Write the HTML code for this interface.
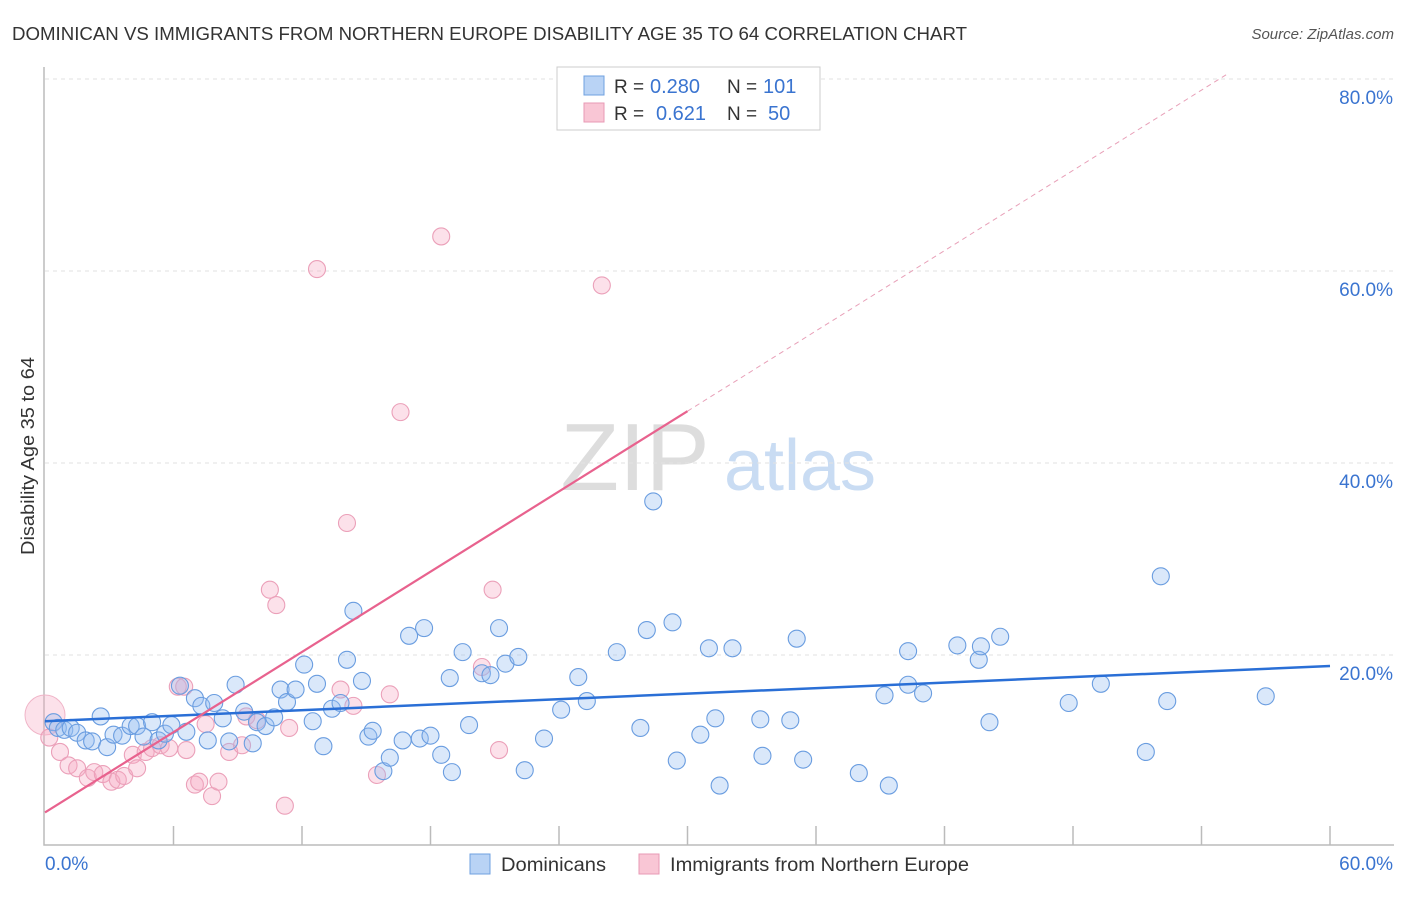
<!DOCTYPE html>
<html><head><meta charset="utf-8"><style>
body{margin:0;background:#fff;font-family:"Liberation Sans",sans-serif;}
svg text{font-family:"Liberation Sans",sans-serif;}
</style></head><body>
<svg id="chart" width="1406" height="892" viewBox="0 0 1406 892" xmlns="http://www.w3.org/2000/svg">
<text x="12" y="40" font-size="18" fill="#333" textLength="955" lengthAdjust="spacingAndGlyphs">DOMINICAN VS IMMIGRANTS FROM NORTHERN EUROPE DISABILITY AGE 35 TO 64 CORRELATION CHART</text>
<text x="1394" y="39" font-size="15" fill="#555" text-anchor="end" font-style="italic">Source: ZipAtlas.com</text>
<g>
<text x="635" y="490" font-size="96" fill="#ddd" text-anchor="middle" font-family="Liberation Serif,serif">ZIP</text>
<text x="800" y="490" font-size="72" fill="#c9dcf3" text-anchor="middle">atlas</text>
</g>
<g id="grid"></g>
<g id="axes"></g>
<g id="points"></g>
<g id="lines"></g>
<text transform="translate(34,456) rotate(-90)" font-size="18" fill="#333" text-anchor="middle" textLength="198" lengthAdjust="spacingAndGlyphs">Disability Age 35 to 64</text>
<g>
<rect x="557" y="67" width="263" height="63" fill="#fff" stroke="#ccc"/>
<rect x="584" y="76" width="20" height="19" fill="#b9d3f5" stroke="#6fa0e0"/>
<rect x="584" y="103" width="20" height="19" fill="#f9c6d5" stroke="#e89ab5"/>
<text x="614" y="93" font-size="19" fill="#333">R =</text>
<text x="650" y="93" font-size="20" fill="#3a74d0">0.280</text>
<text x="727" y="93" font-size="19" fill="#333">N =</text>
<text x="763" y="93" font-size="20" fill="#3a74d0">101</text>
<text x="614" y="120" font-size="19" fill="#333">R =</text>
<text x="656" y="120" font-size="20" fill="#3a74d0">0.621</text>
<text x="727" y="120" font-size="19" fill="#333">N =</text>
<text x="768" y="120" font-size="20" fill="#3a74d0">50</text>
</g>
<g>
<rect x="470" y="854" width="20" height="20" fill="#b9d3f5" stroke="#6fa0e0"/>
<text x="501" y="871" font-size="19" fill="#333" textLength="105" lengthAdjust="spacingAndGlyphs">Dominicans</text>
<rect x="639" y="854" width="20" height="20" fill="#f9c6d5" stroke="#e89ab5"/>
<text x="670" y="871" font-size="19" fill="#333" textLength="299" lengthAdjust="spacingAndGlyphs">Immigrants from Northern Europe</text>
</g>
</svg>
<script>
const blueX=[0.4,0.6,0.9,1.2,1.5,1.9,2.2,2.6,2.9,3.2,3.6,4.0,4.3,4.6,5.0,5.3,5.6,5.9,6.3,6.6,7.0,7.3,7.6,7.9,8.3,8.6,8.9,9.3,9.7,9.9,10.3,10.7,11.0,11.3,11.7,12.1,12.5,12.7,13.0,13.4,13.8,14.1,14.4,14.8,15.1,15.3,15.8,16.1,16.7,17.0,17.5,17.7,18.0,18.5,18.9,19.0,19.5,19.8,20.4,20.8,21.2,21.5,22.1,22.4,23.3,24.1,24.9,25.3,26.7,27.8,28.1,28.4,29.3,29.5,30.6,31.0,31.3,31.5,32.1,33.4,33.5,34.8,35.1,35.4,38.0,39.2,39.4,40.3,40.3,41.0,42.6,43.6,43.7,44.1,44.6,47.8,49.3,51.4,52.1,52.4,57.0];
const blueY=[13.0,12.4,12.2,12.4,11.9,11.1,11.0,13.6,10.4,11.7,11.6,12.6,12.6,11.5,13.0,11.1,11.8,12.7,16.8,12.0,15.5,14.7,11.1,15.0,13.4,11.0,16.9,14.1,10.8,13.0,12.6,13.5,16.4,15.1,16.4,19.0,13.1,17.0,10.5,14.4,15.0,19.5,24.6,17.3,11.5,12.1,7.9,9.3,11.1,22.0,11.3,22.8,11.6,9.6,17.6,7.8,20.3,12.7,18.1,17.9,22.8,19.1,19.8,8.0,11.3,14.3,17.7,15.2,20.3,12.4,22.6,36.0,23.4,9.0,11.7,20.7,13.4,6.4,20.7,13.3,9.5,13.2,21.7,9.1,7.7,15.8,6.4,16.9,20.4,16.0,21.0,19.5,20.9,13.0,21.9,15.0,17.0,9.9,28.2,15.2,15.7];
const pinkX=[0.2,0.7,1.1,1.5,2.0,2.3,2.7,3.1,3.4,3.7,4.1,4.3,4.7,5.0,5.4,5.8,6.2,6.5,6.6,7.0,7.2,7.5,7.8,8.1,8.6,9.2,9.4,9.9,10.5,10.8,11.4,11.2,12.7,13.8,14.1,14.4,15.5,16.1,16.6,18.5,20.4,20.9,21.2,26.0];
const pinkY=[11.4,9.9,8.5,8.2,7.2,7.8,7.6,6.8,7.0,7.4,9.6,8.2,9.9,10.3,10.6,10.3,16.7,16.7,10.1,6.5,6.8,12.8,5.3,6.8,9.9,10.6,13.6,13.2,26.8,25.2,12.4,4.3,60.2,16.4,33.75,14.7,7.5,15.9,45.3,63.6,18.75,26.8,10.1,58.5];
const bigPink=[0,13.75];
const blueLine=[13.1,18.85];
const pinkLine=[3.6,45.4];
const yTicks=[20,40,60,80];
const yTickLabels=["20.0%","40.0%","60.0%","80.0%"];
const xTickVals=[0,6,12,18,24,30,36,42,48,54,60];

const NS="http://www.w3.org/2000/svg";
const X=v=>45+v/60*1285;
const Y=v=>847-v*9.6;
function mk(tag,attrs,parent){const e=document.createElementNS(NS,tag);for(const k in attrs)e.setAttribute(k,attrs[k]);document.getElementById(parent).appendChild(e);return e;}

yTicks.forEach((t,i)=>{
  const l=mk('line',{x1:45,x2:1394,y1:Y(t),y2:Y(t),stroke:'#e2e2e2','stroke-dasharray':'4,4'},'grid');
  
  
  const tx=mk('text',{x:1393,y:Y(t)+25,'font-size':19,fill:'#3a74d0','text-anchor':'end'},'grid');
  tx.textContent=yTickLabels[i];
  
  
});
const ax=mk('path',{d:'M44,67 L44,845 L1394,845',fill:'none',stroke:'#bbb','stroke-width':1.5},'axes');


xTickVals.forEach(v=>{
  if(v===0)return;
  const t=mk('line',{x1:X(v),x2:X(v),y1:826,y2:845,stroke:'#bbb','stroke-width':1.5},'axes');
  
  
});
const x0=mk('text',{x:45,y:870,'font-size':19,fill:'#3a74d0'},'axes');x0.textContent='0.0%';


const x1=mk('text',{x:1393,y:870,'font-size':19,fill:'#3a74d0','text-anchor':'end'},'axes');x1.textContent='60.0%';



const bp=mk('circle',{cx:X(bigPink[0]),cy:Y(bigPink[1]),r:20,fill:'rgba(245,170,195,0.35)',stroke:'#f0b5c8'},'points');


pinkX.forEach((x,i)=>{
  const c=mk('circle',{cx:X(x),cy:Y(pinkY[i]),r:8.5,fill:'rgba(245,170,195,0.35)',stroke:'#eba0b9','stroke-width':1.1},'points');
  
  
});
blueX.forEach((x,i)=>{
  const c=mk('circle',{cx:X(x),cy:Y(blueY[i]),r:8.5,fill:'rgba(150,190,240,0.35)',stroke:'#6a9de0','stroke-width':1.1},'points');
  
  
});
const bl=mk('line',{x1:X(0),y1:Y(blueLine[0]),x2:X(60),y2:Y(blueLine[1]),stroke:'#2a6fd6','stroke-width':2.5},'lines');


const slope=(pinkLine[1]-pinkLine[0])/30;
const pl=mk('line',{x1:X(0),y1:Y(pinkLine[0]),x2:X(30),y2:Y(pinkLine[1]),stroke:'#e8628e','stroke-width':2.2},'lines');


const xe=(80.5-pinkLine[0])/slope;
const pd=mk('line',{x1:X(30),y1:Y(pinkLine[1]),x2:X(xe),y2:Y(80.5),stroke:'#e8a0b8','stroke-width':1,'stroke-dasharray':'5,4'},'lines');


</script>
</body></html>
